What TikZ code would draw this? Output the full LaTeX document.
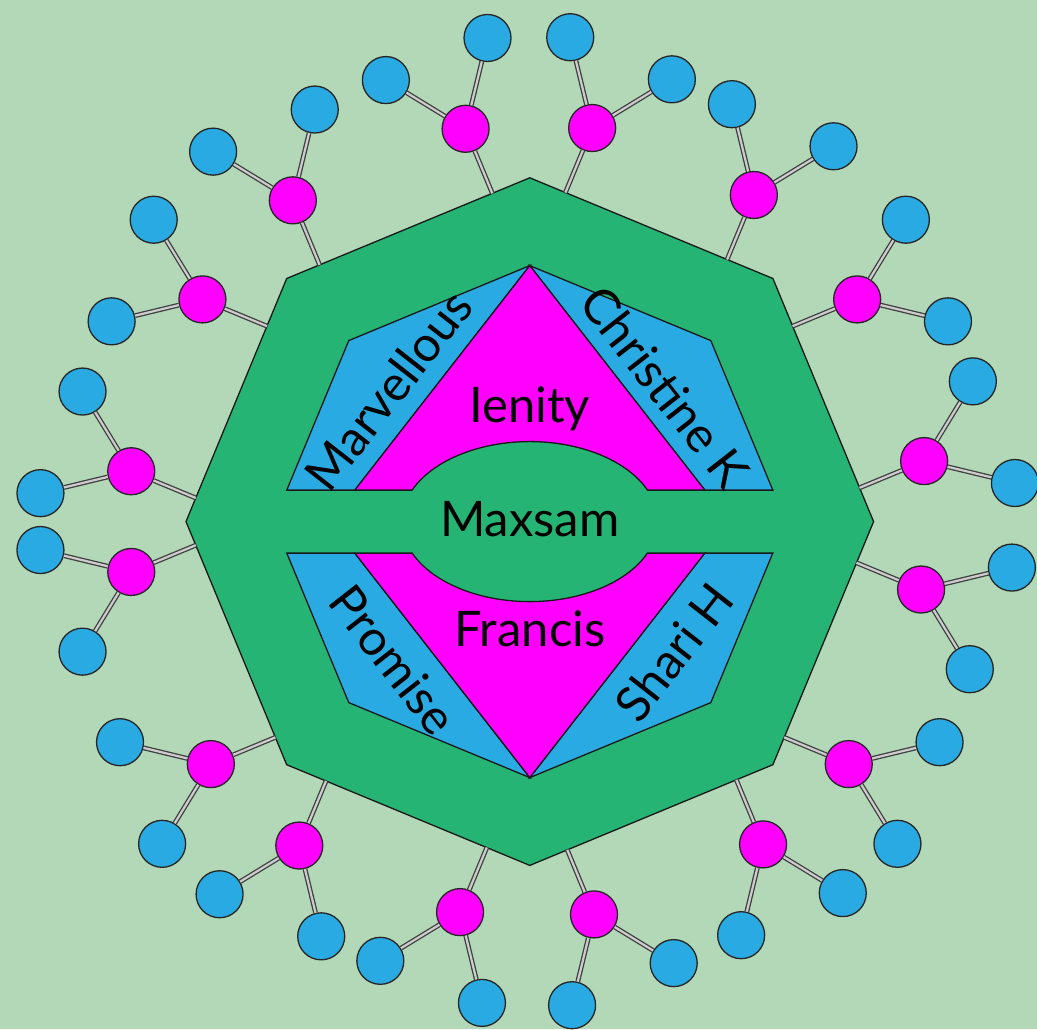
\documentclass[tikz,border=0pt]{standalone}
\usepackage{fontspec}
\setmainfont{Lato}
\usetikzlibrary{calc}
\definecolor{bgmint}{RGB}{178,216,183}
\definecolor{octgreen}{RGB}{37,180,116}
\definecolor{leafblue}{RGB}{41,170,226}
\definecolor{hubpink}{RGB}{255,0,255}
\tikzset{
  rim/.style={draw=black!90,line width=1.3pt},
  hub/.style={circle,draw=black!85,line width=1.3pt,fill=hubpink,minimum size=47pt,inner sep=0pt},
  leaf/.style={circle,draw=black!85,line width=1.3pt,fill=leafblue,minimum size=47pt,inner sep=0pt},
  link/.style={draw=black!75,double=black!20,double distance=2.2pt,line width=1.3pt},
  lbl/.style={font=\fontsize{49}{58}\selectfont,inner sep=0pt}
}
\begin{document}
\begin{tikzpicture}[x=1pt,y=1pt]
\fill[bgmint] (-529.8,-507.4) rectangle (507.2,521.6);
\useasboundingbox (-529.8,-507.4) rectangle (507.2,521.6);
% outer octagon
\draw[rim,fill=octgreen] (90:343.8) \foreach \a in {135,180,...,405}{ -- (\a:343.8)} -- cycle;
% upper half
\draw[rim,fill=leafblue] (-243,31.5) -- (135:256) -- (90:256) -- (-175,31.5) -- cycle;
\draw[rim,fill=leafblue] (243,31.5) -- (45:256) -- (90:256) -- (175,31.5) -- cycle;
\draw[rim,fill=hubpink] (-175,31.5) -- (90:256) -- (175,31.5) -- (117.66,31.5)
  arc[start angle=23.19,end angle=156.81,x radius=128,y radius=80] -- cycle;
% lower half
\draw[rim,fill=leafblue] (-243,-31.5) -- (225:256) -- (270:256) -- (-175,-31.5) -- cycle;
\draw[rim,fill=leafblue] (243,-31.5) -- (315:256) -- (270:256) -- (175,-31.5) -- cycle;
\draw[rim,fill=hubpink] (-175,-31.5) -- (270:256) -- (175,-31.5) -- (117.66,-31.5)
  arc[start angle=-23.19,end angle=-156.81,x radius=128,y radius=80] -- cycle;
% labels
\node[lbl,rotate=52] (marv) at (-141.5,131.5) {Marvellous};
\node[lbl,rotate=-52] (chris) at (135.5,134.5) {Christine K};
\node[lbl,anchor=base] (ien) at (0,99.5) {Ienity};
\node[lbl,anchor=base] (max) at (0,-15) {Maxsam};
\node[lbl,anchor=base] (fran) at (0,-125) {Francis};
\node[lbl,rotate=-52] (prom) at (-136.5,-138.5) {Promise};
\node[lbl,rotate=52] (shari) at (144,-130.5) {Shari H};
% hubs and leaves round the rim
\foreach \m/\ta/\tb [count=\k] in {22.5/-95/80,67.5/-82/93,112.5/-91/96,157.5/-80/106,
    202.5/-106/102,247.5/-89/85,292.5/-91/92,337.5/-102/87}{
  \foreach \t [count=\i] in {\ta,\tb}{
    \coordinate (f\k\i) at ($(\m:317.6)+({\m+90}:\t)$);
    \node[hub] (h\k\i) at ($(\m:387.5)+({\m+90}:\t)$) {};
    \node[leaf] (a\k\i) at ($(h\k\i)+(\m:75.5)+({\m+90}:55)$) {};
    \node[leaf] (b\k\i) at ($(h\k\i)+(\m:75.5)+({\m-90}:55)$) {};
    \draw[link] (h\k\i) -- (f\k\i);
    \draw[link] (h\k\i) -- (a\k\i);
    \draw[link] (h\k\i) -- (b\k\i);
  }
}
\end{tikzpicture}
\end{document}
